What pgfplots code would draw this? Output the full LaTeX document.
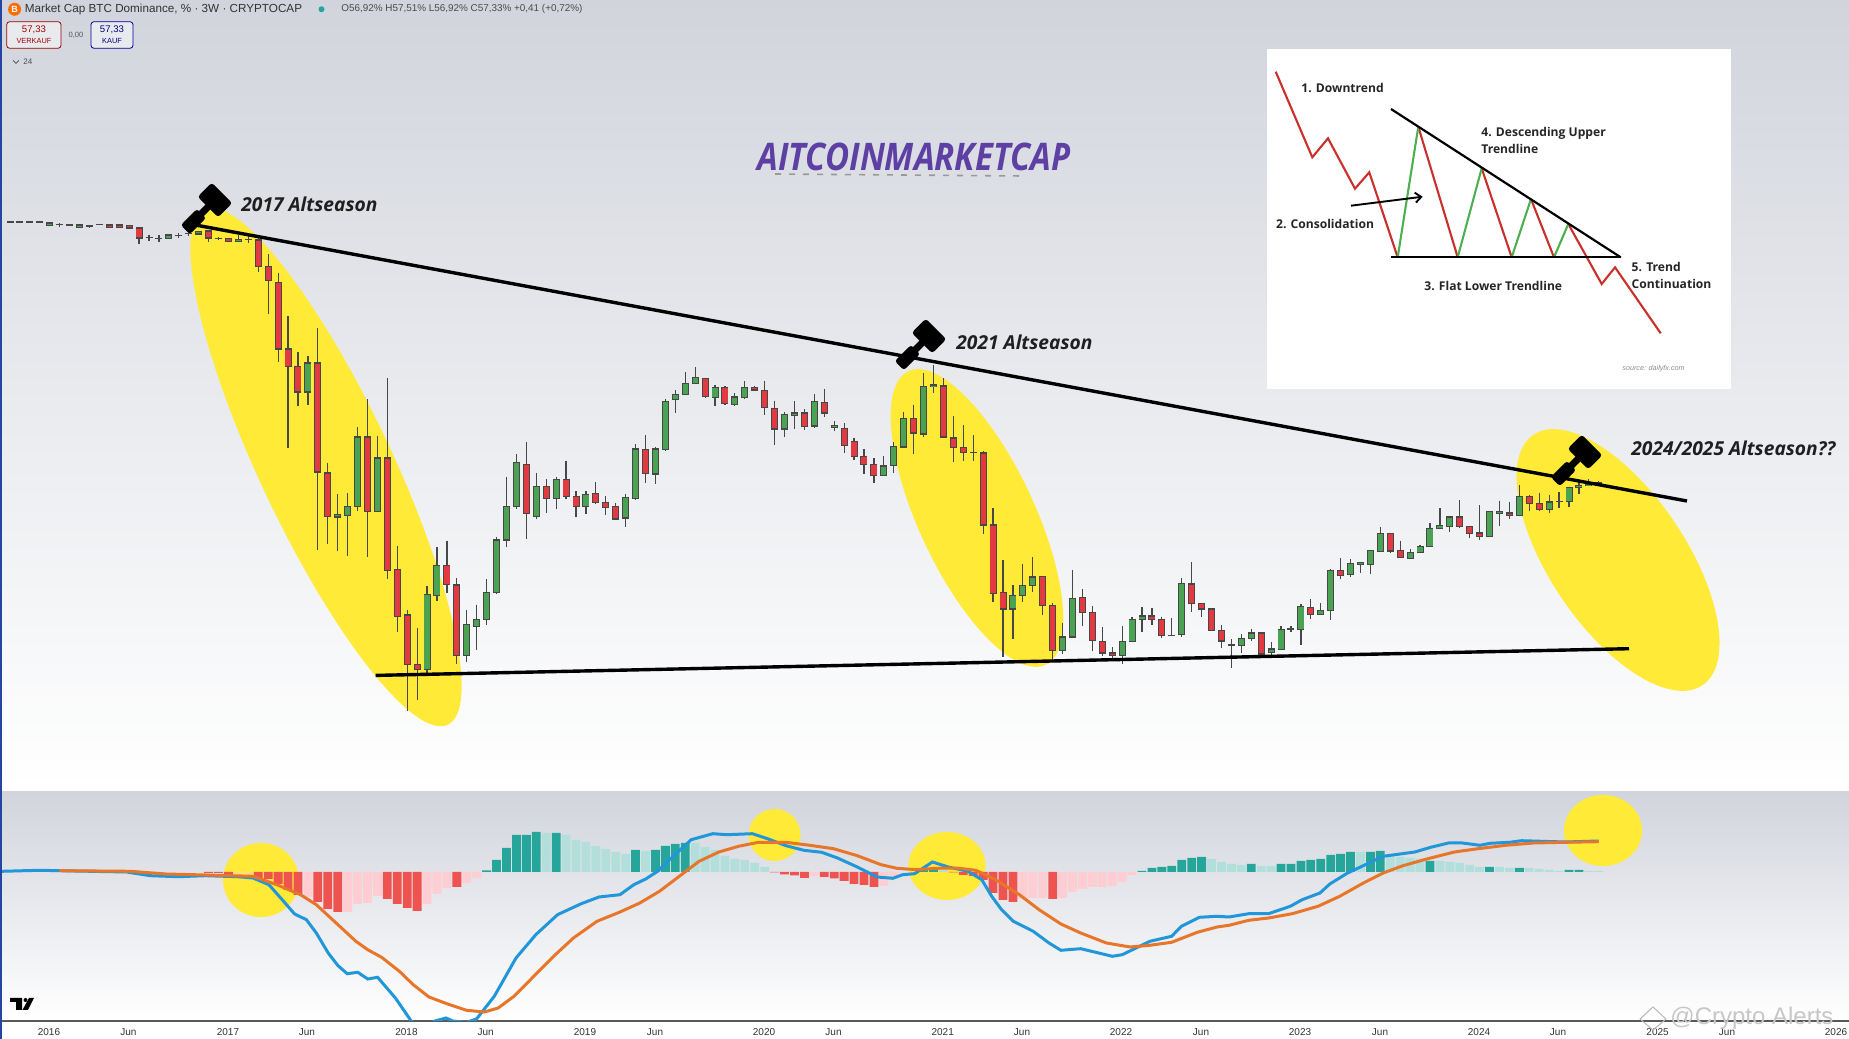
\documentclass[border=0pt]{standalone}
\usepackage{fontspec}
\setmainfont{Liberation Sans}
\newfontfamily\altf{Open Sans}
\usepackage{pgfplots}
\usepackage{pgfplotstable}
\pgfplotsset{compat=1.18}
\usetikzlibrary{shapes.geometric,arrows.meta}

\definecolor{candleRed}{HTML}{E23A40}
\definecolor{candleGreen}{HTML}{4AA352}
\definecolor{hl}{HTML}{FFEA38}
\definecolor{paneTop}{HTML}{D1D4DC}
\definecolor{tealDark}{HTML}{26A69A}
\definecolor{tealLight}{HTML}{B2DFDB}
\definecolor{redDark}{HTML}{EF5350}
\definecolor{redLight}{HTML}{FFCDD2}
\definecolor{macdBlue}{HTML}{2196D9}
\definecolor{sigOrange}{HTML}{E8762A}
\definecolor{wmPurple}{HTML}{5E3FA3}
\definecolor{insetRed}{HTML}{C9302C}
\definecolor{insetGreen}{HTML}{4CAF50}
\definecolor{edgeBlue}{HTML}{2347A0}

% candles: bar number, wick top, body top, body bottom, wick bottom (chart rows, top = 0)
\pgfplotstableread{
i wt bt bb wb
10 225 225 227 227
11 225 225 227 227
12 225.7 225.7 228 228
13 228 228 238 243.6
20 231 231 237.9 242
22 238.6 238.6 241.8 241.8
25 237 240 266.8 272
26 254.3 266.4 280.4 314
27 272.9 282.5 349 362
28 316 349 366.4 447.9
29 352 366.4 392 406
31 327.9 363 472 550
32 462.9 472.9 516.4 544.3
36 399.3 437 511.4 556.8
38 378 457.9 570.4 578.6
39 545.7 569.3 616.4 632
40 609.6 615 664.3 711.4
41 627.9 664.3 669.6 699.6
44 540.7 565.7 584.6 592.9
45 578 585 655.4 663.6
52 441.7 464.3 513.7 539
54 479.3 486.3 498.7 512.7
56 460.7 479.3 496.7 498.7
57 491 496.3 506.7 517.3
59 482.3 493.7 502.7 504.3
60 496 502.3 507.3 514.7
61 502.7 506.3 519 520.3
64 435 449.7 473.3 482.7
70 377.7 378.3 396.7 398
72 386.3 387.3 403.3 405.3
75 385.7 387.7 390 390
76 380.7 390.7 407.7 414.7
77 400.7 408.3 429 445.3
80 409 413 426.7 429.7
82 388.7 402.7 413 417.3
84 423.3 428.3 445.7 452.7
85 437.7 441.7 456.3 460.3
86 449.3 456.3 464.3 474
87 458.3 464.3 475.7 482.7
91 404.7 418.7 433 454
94 378.3 386 437 438.3
95 416.3 438 447.3 462.3
96 425 447.3 452.3 460.7
98 451 453 525 534
99 508.3 525 593.7 601.7
100 560 592.3 609 657.3
104 576.7 576.7 605.3 614.7
105 602.7 605.7 650.3 660
108 589.3 597.7 612.3 625.7
109 605.7 612.3 640.3 650.7
110 627.3 641.7 653 655.7
111 647.3 653 655.7 660
115 608 616 619.3 625
116 616.7 619.3 635.7 637.7
119 562.3 584 603.3 611.7
120 603.3 603.3 609 617.3
121 609 609 630.7 630.7
122 625 630.3 641 648.3
126 632 633 654 655.3
131 599 607.3 614.7 618.7
134 558.3 570.3 575.7 578.7
139 533.7 533.7 551 552.7
140 540.7 550.3 557.3 558
146 500 517 526.7 528.3
147 526.7 526.7 533.3 538
148 505.3 533 536.3 539.7
151 501.7 513 515.3 519.3
153 495.3 496.3 503.3 510.7
154 492.7 503.7 509.7 511.3
}\tabRed
\pgfplotstableread{
i wt bt bb wb
0 222 222 222 222
1 222 222 222 222
2 222 222 222 222
3 222 222 222 222
4 223 223 225 225
5 223 224.6 224.6 227
6 225 225 225 225
7 225 225 227 227
8 225 226 226 228
9 224 224.6 224.6 225
14 234.6 237.5 237.5 240.7
15 235 238.2 238.2 241.8
16 234 235 238.2 239
17 232.9 235.4 235.4 238.2
18 231 233.6 233.6 236
19 231 231.8 234 234.5
21 237 238.2 238.2 239.6
23 235.4 239.3 241.8 241.8
24 236 239.3 239.3 242.5
30 356 363 392 405
33 494 514.3 517 551.4
34 493 506.4 515.7 556.4
35 427 437 506.4 511.4
37 436.4 457.9 511.4 511.4
42 586 594.6 669.3 672.9
43 547 565.7 595.4 601.4
46 610 624.3 655.4 662
47 605 619.6 626.4 649.6
48 579 592.5 619.3 625
49 537.3 540 592.3 594
50 476.7 506.3 540 546.7
51 454.3 462.3 506.7 509
53 472.7 486.3 516.7 518.7
55 476.7 479.3 498.7 509.3
58 491 494.3 506.7 514.3
62 493.7 497.7 518 526.7
63 444 449 498.7 500.3
65 446.7 449 474 483.7
66 399.3 401.7 449.3 450.7
67 390.3 394.3 399.7 413.3
68 372 383.3 394.7 394.7
69 367 377.7 383.3 383.3
71 385 387.3 397.3 406
73 393.3 397 404.7 406
74 381.3 387.3 397.3 399.3
78 412 414.7 429 436.7
79 401.3 413 415.3 428.7
81 394 401.7 426 428.3
83 421.3 425.7 427.3 430.7
88 456.3 466 475.7 476
89 442 446.7 465.7 473.3
90 412 418.7 447 448.3
92 373.3 386.7 434 437.3
93 365 385 386.3 393.3
97 435 452.7 452.7 460.7
101 585 595.3 609 638.7
102 564.3 585.7 595.7 602.3
103 557.3 577 585.7 592.3
106 623.3 637 650.3 654
107 569.7 598.3 637 637.7
112 626 641.7 655.3 663.7
113 616.7 619.3 641.7 642.3
114 607 616 619.3 632
117 618.3 635.3 635.3 636
118 577.7 583.3 634.7 636.7
123 639.3 645 645 667.7
124 634.3 638.3 645.7 653.3
125 629.3 633 638.7 641.3
127 642.3 649 652.3 657.3
128 626.3 629.7 649.3 650
129 626.3 629 629 632
130 604.3 606.3 629.7 645.3
132 603 610.3 614.7 615.3
133 569 570.3 610.3 620.3
135 559.3 563.3 574.7 576.7
136 562.7 562.7 564.3 572.7
137 550.3 550.3 564.3 574
138 527 533.7 551.3 551.3
141 549.3 552.3 558.7 558.7
142 545 546.3 552.7 552.7
143 522.7 528.3 546.7 546.7
144 508 525.7 528.3 528.3
145 517 517 526.7 531.7
149 511.3 511.3 536.3 536.7
150 500.7 511.7 513 526
152 485 496.3 515.3 516
155 494.7 502 509.7 513
156 491.7 501.3 501.3 508.3
157 486.7 487.7 501.7 506.7
158 480 485.3 487.3 494
159 479.3 484 485.7 486
160 481 482.3 485.7 486
}\tabGreen

% histogram: bar number, height
\pgfplotstableread{
i h
48 1.5
49 12
50 24
51 37
52 37
53 40
55 39
63 22
65 22
66 26
67 28
68 29
92 3
93 3
114 1
115 4
116 5
117 6
118 12
119 14
120 15
125 8
128 8
129 8
130 11
131 12
132 13
133 17
134 18
135 20
137 20
138 21
143 11
149 5
152 4
157 2
158 2
}\histTealDark
\pgfplotstableread{
i h
54 39
56 37
57 32
58 30
59 26
60 23
61 20
62 18
64 21
69 29
70 25
71 22
72 16
73 13
74 12
75 9
76 5
94 2
121 13
122 10
123 8
124 7
126 6
127 6
136 20
139 16
140 15
141 14
142 13
144 11
145 10
146 9
147 7
148 5
150 5
151 4
153 4
154 3
155 2
156 1
159 1
160 1
}\histTealLight
\pgfplotstableread{
i h
20 -1
21 -1
22 -4
25 -6
26 -7
27 -12
28 -18
29 -23
31 -30
32 -37
33 -40
38 -27
39 -32
40 -36
41 -39
45 -15
77 -0.5
78 -2.5
79 -3.5
80 -6
82 -5
83 -6.5
84 -9
85 -12
86 -13
87 -15
95 -0.5
96 -3
97 -4
98 -8
99 -21
100 -28
101 -30
105 -27
}\histRedDark
\pgfplotstableread{
i h
23 -1
24 -1
30 -25
34 -40
35 -32
36 -31
37 -24
42 -32
43 -22
44 -16
46 -11
47 -6
81 -4
88 -14
89 -7
102 -27
103 -26
104 -26
106 -26
107 -20
108 -17
109 -15
110 -15
111 -14
112 -10
113 -3
}\histRedLight

\pgfplotstableread{
x y
2 0.7
39.5 1.7
59.3 1.3
126.5 0
150.3 -3.7
178 -4.7
205.6 -3.7
237.2 -4.7
253 -6
268.9 -12.7
280.7 -26
294.6 -42
306.4 -47.7
316.3 -61
328.2 -81
338 -93.7
347.2 -101.7
357.8 -100.3
367.7 -107
377.6 -105.3
395.4 -126
411.2 -149
419 -156
435 -149
446 -146
452.7 -149
466.6 -150.3
476.5 -147
494.3 -124.3
516 -86
535.8 -62.7
557.5 -42.7
581.3 -31.7
599 -25
620 -22.7
633.8 -12.7
645.7 -7
657.6 0.7
671.4 14
691.2 32.3
712.9 38.3
726.8 37.3
752.5 38.3
768.3 33
786 26.3
803.9 21.7
821.7 19.7
837.5 14
857.3 5
877 -5
892.8 -6.3
902.7 -2.7
914.6 -1.7
932.4 10
948.2 5
968 0.7
981.8 -7.7
991.7 -24.3
1001.6 -37.7
1013.4 -49.3
1033.2 -59.3
1049 -71
1060.9 -78.3
1080.7 -76.7
1094.5 -80
1112.3 -84.3
1122.2 -82.7
1149.9 -69.3
1171.6 -64.3
1181.5 -54.3
1199.3 -45.3
1217 -44.3
1229 -45
1248.8 -41.7
1268.5 -41.7
1290.3 -34.3
1302.2 -27.7
1320 -21
1329.8 -12
1347.6 -1
1365.4 7.3
1383.2 15.7
1414.8 20
1430.7 24.7
1448.5 29
1462.3 29
1480.1 26.7
1490 28.7
1509.7 29.7
1521.6 31.3
1541.4 30.7
1565.1 30
1598.7 31
}\lineMacd
\pgfplotstableread{
x y
59.3 1.3
130.5 0.7
166 -2
205.6 -3
253 -4.3
276.8 -12.7
300.5 -22.7
316.3 -32.7
336.1 -51
355.9 -69.3
367.7 -77.7
381.6 -85.3
399.4 -99.3
413.2 -112.7
429 -125
446.8 -131.7
466.6 -138.3
484.4 -140
498.2 -136
514 -124.3
533.8 -104.3
553.6 -84.3
573.4 -66
597 -49.3
620 -40
639.8 -31
659.5 -19.3
679.3 -4.3
699.1 10.7
718.9 20
738.6 25.7
758.4 29.7
786 29.7
809.8 26.7
833.5 23.3
857.3 16.3
881 7.3
896.8 3.7
916.6 2.3
936.3 3.7
956.1 4
975.9 1.7
995.6 -7.7
1019.4 -22.7
1039.1 -37.7
1060.9 -52
1080.7 -61
1106.4 -71
1130.1 -75
1149.9 -73.3
1171.6 -70.3
1197.3 -60.3
1217 -55
1229 -53.3
1248.8 -48.3
1268.5 -46
1292.3 -41.7
1318 -34.3
1339.7 -24.3
1363.4 -11
1383.2 -1
1403 6.3
1426.7 13
1454.4 20
1478.1 23.3
1505.8 26.7
1533.5 29
1565.1 29.7
1598.7 30.3
}\lineSignal

\newcommand{\candles}[2]{%
  \addplot[draw=none, mark=none, forget plot, error bars/.cd, y dir=plus, y explicit, error mark=none,
    error bar style={line width=.6pt, draw=black!72}]
    table[x expr=10+9.93*\thisrow{i}, y=wt, y error plus expr=\thisrow{wb}-\thisrow{wt}] {#1};
  \addplot[draw=none, mark=none, forget plot, error bars/.cd, y dir=plus, y explicit, error mark=none,
    error bar style={line width=3.5pt, draw=black!72}]
    table[x expr=10+9.93*\thisrow{i}, y expr=\thisrow{bt}-0.6, y error plus expr=\thisrow{bb}-\thisrow{bt}+1.2] {#1};
  \addplot[draw=none, mark=none, forget plot, error bars/.cd, y dir=plus, y explicit, error mark=none,
    error bar style={line width=2.6pt, draw=#2}]
    table[x expr=10+9.93*\thisrow{i}, y expr=\thisrow{bt}+0.6, y error plus expr={max(\thisrow{bb}-\thisrow{bt}-1.2,0)}] {#1};
}
\newcommand{\histbars}[2]{%
  \addplot[ybar, bar width=4.4pt, bar shift=0pt, fill=#2, draw=none, forget plot]
    table[x expr=10+9.93*\thisrow{i}, y=h] {#1};
}
\newcommand{\gavel}[2]{%
  \begin{scope}[shift={(#1,#2)}, rotate=45, x=.5pt, y=.5pt]
    \fill[black, rounded corners=1.5pt] (-10,-14.5) rectangle (10,14.5);
    \fill[black] (-22,-3.5) rectangle (-6,3.5);
    \fill[black, rounded corners=1.5pt] (-42,-6.5) rectangle (-19,6.5);
  \end{scope}
}

\begin{document}
\begin{tikzpicture}
\useasboundingbox (0pt,0pt) rectangle (924.5pt,519.5pt);
\fill[white] (0pt,0pt) rectangle (924.5pt,519.5pt);

% background in image pixels, y downward
\begin{scope}[shift={(0pt,519.5pt)}, x=.5pt, y=-.5pt]
  \shade[top color=paneTop, bottom color=white, middle color=paneTop!48!white] (0,0) rectangle (1849,788);
  \shade[top color=paneTop, bottom color=white] (0,792) rectangle (1849,1021);
  \node[ellipse, fill=hl, inner sep=0pt, minimum width=285pt, minimum height=66pt, rotate=-64.7] at (326,467) {};
  \node[ellipse, fill=hl, inner sep=0pt, minimum width=162pt, minimum height=58pt, rotate=-65] at (977,518) {};
  \node[ellipse, fill=hl, inner sep=0pt, minimum width=151pt, minimum height=68pt, rotate=-56] at (1618,560) {};
  \fill[hl] (261,880) ellipse (38 and 37);
  \fill[hl] (774.6,835) ellipse (26 and 26);
  \fill[hl] (947,866) ellipse (38.6 and 34);
  \fill[hl] (1603,830.5) ellipse (39 and 35.5);
  \fill[white] (1266.7,49.3) rectangle (1730.7,389.3);
\end{scope}

\begin{axis}[
  at={(0pt,123.5pt)}, anchor=south west,
  width=924.5pt, height=396pt, scale only axis,
  xmin=0, xmax=1849, ymin=0, ymax=792,
  y dir=reverse, hide axis,
]
\candles{\tabRed}{candleRed}
\candles{\tabGreen}{candleGreen}
% trendlines
\addplot[black, line width=1.7pt, forget plot] coordinates {(190,224) (1687,501)};
\addplot[black, line width=1.7pt, forget plot] coordinates {(375.7,675.4) (1629,648.7)};
% inset pattern
\addplot[insetRed, line width=1.05pt, forget plot] coordinates {(1275.7,71.7) (1312.3,157.3) (1328,138.3) (1355,188.7) (1369.3,172.3) (1397.7,257.3)};
\addplot[insetRed, line width=1.05pt, forget plot] coordinates {(1418.3,126.7) (1457.7,257.3)};
\addplot[insetRed, line width=1.05pt, forget plot] coordinates {(1481.7,168.3) (1511.7,257.3)};
\addplot[insetRed, line width=1.05pt, forget plot] coordinates {(1531,199) (1554,257.3)};
\addplot[insetRed, line width=1.05pt, forget plot] coordinates {(1568.3,224) (1601.7,284) (1615,267.3) (1660.7,333.3)};
\addplot[insetGreen, line width=1.05pt, forget plot] coordinates {(1397.7,257.3) (1418.3,126.7)};
\addplot[insetGreen, line width=1.05pt, forget plot] coordinates {(1457.7,257.3) (1481.7,168.3)};
\addplot[insetGreen, line width=1.05pt, forget plot] coordinates {(1511.7,257.3) (1531,199)};
\addplot[insetGreen, line width=1.05pt, forget plot] coordinates {(1554,257.3) (1568.3,224)};
\addplot[black, line width=1.1pt, forget plot] coordinates {(1391,109) (1620.7,257.3)};
\addplot[black, line width=1.1pt, forget plot] coordinates {(1391,257.3) (1620.7,257.3)};
\addplot[black, line width=.95pt, -{Straight Barb[length=3pt,width=5pt]}, forget plot] coordinates {(1351,205.7) (1422.7,196.7)};
\end{axis}

\begin{axis}[
  at={(0pt,9pt)}, anchor=south west,
  width=924.5pt, height=114.5pt, scale only axis,
  xmin=0, xmax=1849, ymin=-149, ymax=80,
  axis x line=bottom, axis y line=none,
  axis line style={draw=black!65, line width=.6pt, -},
  major tick length=0pt,
  xtick={49,128.5,228,307,406.5,485.6,585,655,764,833.5,942.7,1022,1121,1201,1300,1380,1479,1558,1657.6,1727,1836},
  xticklabels={2016,Jun,2017,Jun,2018,Jun,2019,Jun,2020,Jun,2021,Jun,2022,Jun,2023,Jun,2024,Jun,2025,Jun,2026},
  xticklabel style={font=\fontsize{5}{6}\selectfont, text=black!80, inner sep=0pt, yshift=-3.6pt},
]
\histbars{\histTealDark}{tealDark}
\histbars{\histTealLight}{tealLight}
\histbars{\histRedDark}{redDark}
\histbars{\histRedLight}{redLight}
\addplot[macdBlue, line width=1.5pt, forget plot] table[x=x, y=y] {\lineMacd};
\addplot[sigOrange, line width=1.5pt, forget plot] table[x=x, y=y] {\lineSignal};
\end{axis}

% overlay text and marks, in image pixels
\begin{scope}[shift={(0pt,519.5pt)}, x=.5pt, y=-.5pt]
  \fill[edgeBlue] (0,0) rectangle (2,1039);
  \gavel{215}{200}
  \gavel{929}{336}
  \gavel{1585}{452}
  \node[anchor=west, inner sep=0pt, text=black!88, font=\altf\bfseries\itshape\fontsize{9.6}{11}\selectfont] at (241,204) {2017 Altseason};
  \node[anchor=west, inner sep=0pt, text=black!88, font=\altf\bfseries\itshape\fontsize{9.6}{11}\selectfont] at (956,342) {2021 Altseason};
  \node[anchor=west, inner sep=0pt, text=black!88, font=\altf\bfseries\itshape\fontsize{9.6}{11}\selectfont] at (1631,448) {2024/2025 Altseason??};
  \node[anchor=west, inner sep=0pt, text=wmPurple, xscale=.87, font=\altf\bfseries\itshape\fontsize{19}{22}\selectfont] at (757,157) {AITCOINMARKETCAP};
  \draw[black!40, line width=.8pt, dash pattern=on 3pt off 4pt] (775,174) -- (1022,176);
  % inset labels
  \begin{scope}[every node/.style={anchor=west, inner sep=0pt, text=black!85, font=\altf\bfseries\fontsize{6.05}{7.5}\selectfont}]
    \node at (1301,87.7) {1. Downtrend};
    \node at (1481,133) {4. Descending Upper};
    \node at (1481,149.3) {Trendline};
    \node at (1275.7,223.7) {2. Consolidation};
    \node at (1424,285.7) {3. Flat Lower Trendline};
    \node at (1631.3,266.7) {5. Trend};
    \node at (1631.3,284.3) {Continuation};
  \end{scope}
  \node[anchor=west, inner sep=0pt, text=black!45, font=\itshape\fontsize{3.6}{4}\selectfont] at (1622,368.3) {source: dailyfx.com};
  % header
  \fill[orange!85!red] (14.6,9.3) circle (6.5);
  \node[text=white, inner sep=0pt, font=\bfseries\fontsize{4.5}{5}\selectfont] at (14.6,9.3) {B};
  \node[anchor=west, inner sep=0pt, text=black!80, font=\fontsize{5.85}{8}\selectfont] at (24.5,9.3) {Market Cap BTC Dominance, \% · 3W · CRYPTOCAP};
  \fill[tealDark] (321.5,9.3) circle (3);
  \node[anchor=west, inner sep=0pt, text=black!70, font=\fontsize{4.95}{6}\selectfont] at (341,9.3) {O56,92\% H57,51\% L56,92\% C57,33\% +0,41 (+0,72\%)};
  \draw[red!60!black, line width=.4pt, fill=paneTop!50!white, rounded corners=1.5pt] (6.7,21.7) rectangle (61,48.3);
  \node[text=red!65!black, inner sep=0pt, font=\fontsize{4.8}{6}\selectfont] at (34,30) {57,33};
  \node[text=red!65!black, inner sep=0pt, font=\fontsize{3.7}{5}\selectfont] at (34,41) {VERKAUF};
  \node[text=black!65, inner sep=0pt, font=\fontsize{3.8}{5}\selectfont] at (76,35) {0,00};
  \draw[blue!60!black, line width=.4pt, fill=paneTop!50!white, rounded corners=1.5pt] (91,21.7) rectangle (133,48.3);
  \node[text=blue!50!black, inner sep=0pt, font=\fontsize{4.8}{6}\selectfont] at (112,30) {57,33};
  \node[text=blue!50!black, inner sep=0pt, font=\fontsize{3.7}{5}\selectfont] at (112,41) {KAUF};
  \draw[black!70, line width=.35pt] (13,60.5) -- (16,63.5) -- (19,60.5);
  \node[anchor=west, inner sep=0pt, text=black!70, font=\fontsize{4}{5}\selectfont] at (23,62) {24};
  % TradingView mark
  \fill[black] (10,998) -- (22,998) -- (22,1010) -- (16,1010) -- (16,1002) -- (10,1002) -- cycle;
  \fill[black] (25.5,1000) circle (2);
  \fill[black] (29,998) -- (34,998) -- (28,1010) -- (22.5,1010) -- cycle;
  % watermark
  \draw[black!28, line width=.5pt] (1640,1019) -- (1653,1007) -- (1666,1019) -- (1653,1030) -- cycle;
  \node[anchor=west, inner sep=0pt, text=black!22, font=\fontsize{12}{14}\selectfont] at (1670,1018) {@Crypto Alerts};
\end{scope}
\end{tikzpicture}
\end{document}
